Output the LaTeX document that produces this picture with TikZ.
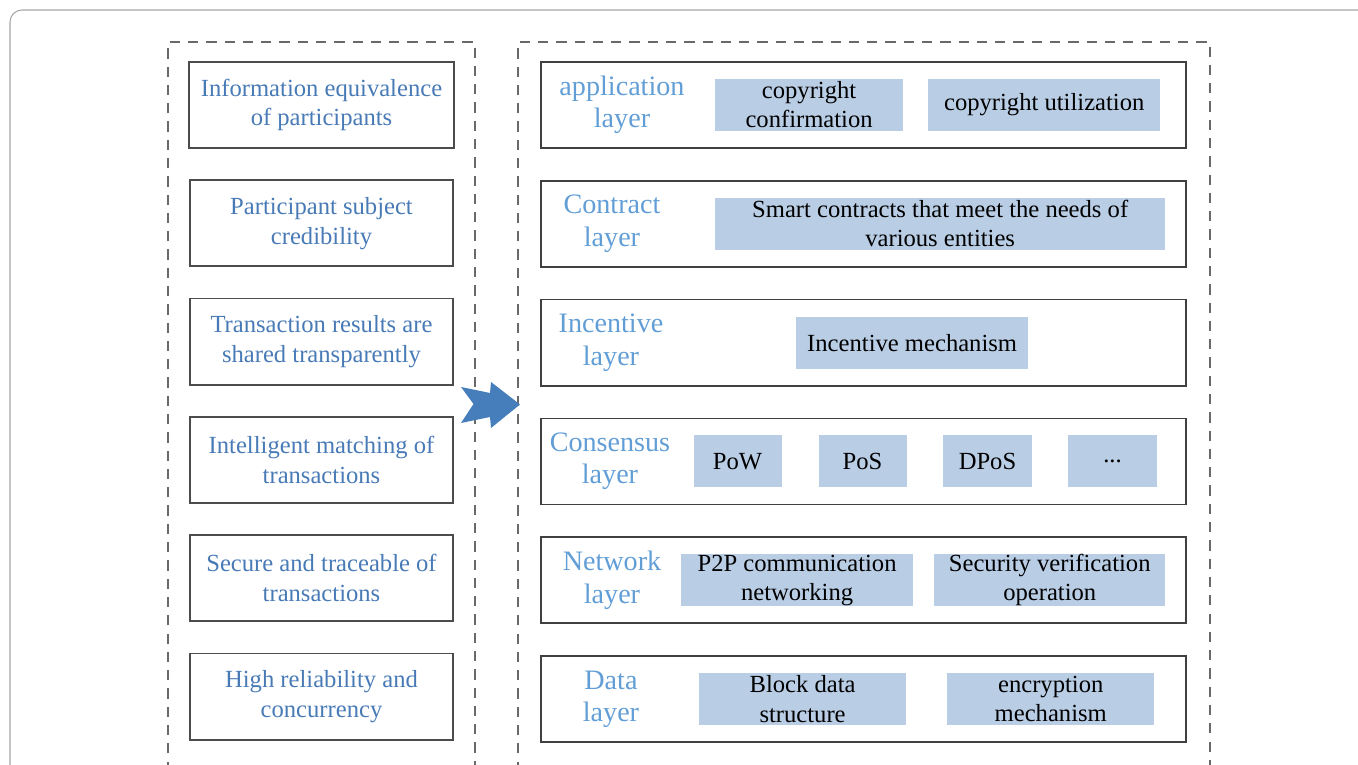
\documentclass[tikz,border=0pt]{standalone}
\usepackage{fontspec}
\setmainfont{Liberation Serif}
\usepackage{tikz}
\usetikzlibrary{positioning}
\definecolor{cT}{RGB}{72,122,182}
\definecolor{cL}{RGB}{98,158,214}
\definecolor{cF}{RGB}{185,205,229}
\definecolor{cR}{RGB}{70,126,188}
\definecolor{cD}{RGB}{105,105,105}

\begin{document}
\begin{tikzpicture}[x=0.01cm, y=-0.01cm,
req/.style={rectangle, draw=black!70, line width=0.5pt, minimum width=2.63cm, minimum height=0.86cm, align=center, text=cT, font=\fontsize{7}{8.5}\selectfont},
layer/.style={rectangle, draw=black!75, line width=0.5pt, minimum width=6.45cm, minimum height=0.86cm},
lab/.style={align=center, text=cL, inner sep=0pt, font=\fontsize{8}{9.2}\selectfont},
part/.style={rectangle, fill=cF, minimum height=0.52cm, align=center, inner sep=0pt, font=\fontsize{7}{8.3}\selectfont},
frame/.style={draw=cD, dash pattern=on 2.9pt off 2.3pt, line width=0.6pt}]

\useasboundingbox (0,0) rectangle (1358,765);
\draw[black!35, line width=0.3pt, rounded corners=0.12cm] (10,790) -- (10,10) -- (1380,10);

\draw[frame] (168,790) -- (168,42) -- (475,42) -- (475,790);
\draw[frame] (518,790) -- (518,42) -- (1210,42) -- (1210,790);

% requirements
\node[req] (L1) at (321.5,105) {Information equivalence\\of participants};
\node[req, below = 0.305cm of L1] (L2) {Participant subject\\credibility};
\node[req, below = 0.305cm of L2] (L3) {Transaction results are\\shared transparently};
\node[req, below = 0.305cm of L3] (L4) {Intelligent matching of\\transactions};
\node[req, below = 0.305cm of L4] (L5) {Secure and traceable of\\transactions};
\node[req, below = 0.305cm of L5] (L6) {High reliability and\\concurrency};

% layers
\node[layer] (R1) at (863.5,105) {};
\node[layer, below = 0.31cm of R1] (R2) {};
\node[layer, below = 0.31cm of R2] (R3) {};
\node[layer, below = 0.31cm of R3] (R4) {};
\node[layer, below = 0.31cm of R4] (R5) {};
\node[layer, below = 0.31cm of R5] (R6) {};

\node[lab] (n1) at ([xshift=0.82cm]R1.west) {application\\layer};
\node[lab] (n2) at ([xshift=0.72cm]R2.west) {Contract\\layer};
\node[lab] (n3) at ([xshift=0.71cm]R3.west) {Incentive\\layer};
\node[lab] (n4) at ([xshift=0.70cm]R4.west) {Consensus\\layer};
\node[lab] (n5) at ([xshift=0.72cm]R5.west) {Network\\layer};
\node[lab] (n6) at ([xshift=0.71cm]R6.west) {Data\\layer};

\node[part, minimum width=1.88cm] (app1) at ([xshift=2.69cm]R1.west) {copyright\\confirmation};
\node[part, minimum width=2.32cm] (app2) at ([xshift=5.04cm]R1.west) {copyright utilization};
\node[part, minimum width=4.50cm] (con1) at ([xshift=4.00cm]R2.west) {Smart contracts that meet the needs of\\various entities};
\node[part, minimum width=2.32cm] (inc1) at ([xshift=3.72cm]R3.west) {Incentive mechanism};
\node[part, minimum width=0.88cm] (cs1) at ([xshift=1.975cm]R4.west) {PoW};
\node[part, minimum width=0.88cm, right = 0.355cm of cs1] (cs2) {PoS};
\node[part, minimum width=0.88cm, right = 0.355cm of cs2] (cs3) {DPoS};
\node[part, minimum width=0.88cm, right = 0.355cm of cs3] (cs4) {...};
\node[part, minimum width=2.32cm] (net1) at ([xshift=2.57cm]R5.west) {P2P communication\\networking};
\node[part, minimum width=2.31cm] (net2) at ([xshift=5.095cm]R5.west) {Security verification\\operation};
\node[part, minimum width=2.07cm] (dat1) at ([xshift=2.625cm]R6.west) {Block data\\structure};
\node[part, minimum width=2.07cm] (dat2) at ([xshift=5.105cm]R6.west) {encryption\\mechanism};

% block arrow
\fill[cR] (461,387) -- (490,393) -- (491,382) -- (520,404.5) -- (491,428) -- (490,417) -- (461,423) -- (473.5,404) -- cycle;
\end{tikzpicture}
\end{document}
